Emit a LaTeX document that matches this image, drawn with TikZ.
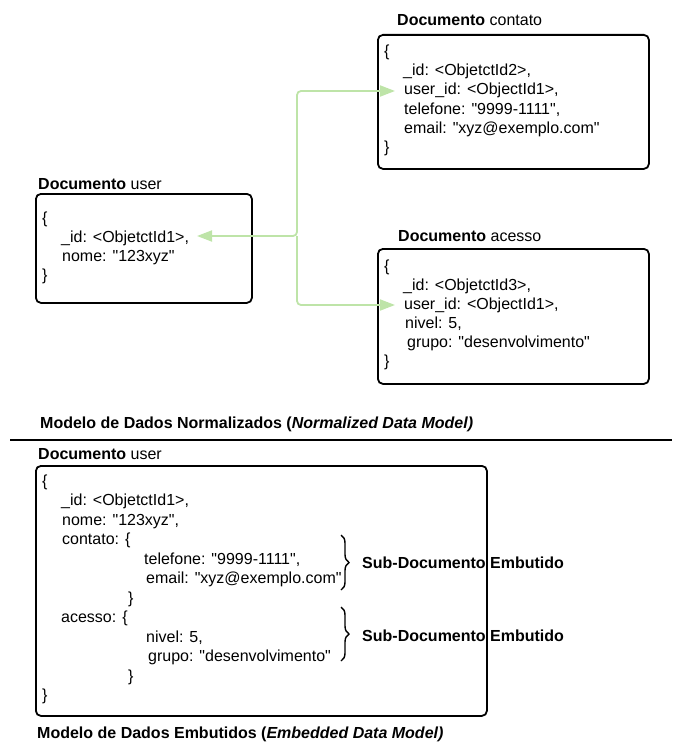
\documentclass[tikz,border=0pt]{standalone}
\usepackage{fontspec}
\setmainfont{Liberation Sans}
\usetikzlibrary{arrows.meta,decorations.pathreplacing}
\definecolor{linkgreen}{RGB}{190,228,168}
\newcommand{\dq}{\textquotedbl}
\begin{document}
\begin{tikzpicture}[x=1pt,y=-1pt,
  docbox/.style={draw=black, line width=1.8pt, rounded corners=5pt, anchor=north west, inner sep=0pt},
  code/.style={anchor=base west, inner sep=0pt, font=\fontsize{16}{19}\selectfont},
  link/.style={draw=linkgreen, line width=1.8pt, rounded corners=4pt},
  tipg/.tip={Triangle[length=15pt,width=11pt,fill=linkgreen,color=linkgreen]},
  subbrace/.style={decorate, decoration={brace, amplitude=8pt}, line width=1.4pt}]
\useasboundingbox (0,0) rectangle (672,749);

% ---------- Normalized model ----------
% contato
\node[code] (tcontato) at (397,26) {\textbf{Documento} contato};
\node[docbox, minimum width=271pt, minimum height=134pt] (contato) at (377,34) {};
\node[code] (c1) at (384,57) {\{};
\node[code] (c2) at (403,76) {\_id: <ObjetctId2>,};
\node[code] (c3) at (404,95) {user\_id: <ObjectId1>,};
\node[code] (c4) at (404,114) {telefone: \dq9999-1111\dq,};
\node[code] (c5) at (404,133) {email: \dq xyz@exemplo.com\dq};
\node[code] (c6) at (384,152) {\}};

% user
\node[code] (tuser) at (38,189) {\textbf{Documento} user};
\node[docbox, minimum width=216pt, minimum height=109pt] (user) at (35,193) {};
\node[code] (u1) at (42,223) {\{};
\node[code] (u2) at (61,242) {\_id: <ObjetctId1>,};
\node[code] (u3) at (62,261) {nome: \dq123xyz\dq};
\node[code] (u4) at (42,280) {\}};

% acesso
\node[code] (tacesso) at (398,241) {\textbf{Documento} acesso};
\node[docbox, minimum width=271pt, minimum height=135pt] (acesso) at (377,248) {};
\node[code] (a1) at (384,271) {\{};
\node[code] (a2) at (403,290) {\_id: <ObjetctId3>,};
\node[code] (a3) at (404,309) {user\_id: <ObjectId1>,};
\node[code] (a4) at (405,328) {nivel: 5,};
\node[code] (a5) at (407,347) {grupo: \dq desenvolvimento\dq};
\node[code] (a6) at (384,366) {\}};

% connectors
\coordinate (uid) at (197,236);
\coordinate (junc) at (297,236);
\coordinate (cuid) at (395,91);
\coordinate (auid) at (395,305);
\draw[link, tipg-tipg] (uid) -- (junc) |- (cuid);
\draw[link, -tipg] (junc) |- (auid);

\node[code] (tnorm) at (40,428) {\textbf{Modelo de Dados Normalizados (\textit{Normalized Data Model)}}};

% separator
\draw[line width=2pt] (10,440) -- (365,440);
\draw[line width=1.6pt] (365,440) -- (672,440);

% ---------- Embedded model ----------
\node[code] (tuser2) at (38,459) {\textbf{Documento} user};
\node[code] (e1) at (42,486) {\{};
\node[code] (e2) at (61,505.5) {\_id: <ObjetctId1>,};
\node[code] (e3) at (62,525) {nome: \dq123xyz\dq,};
\node[code] (e4) at (62,544.5) {contato: \{};
\node[code] (e5) at (144,564) {telefone: \dq9999-1111\dq,};
\node[code] (e6) at (146,583.5) {email: \dq xyz@exemplo.com\dq};
\node[code] (e7) at (128,603) {\}};
\node[code] (e8) at (61,622.5) {acesso: \{};
\node[code] (e9) at (146,642) {nivel: 5,};
\node[code] (e10) at (148,661.5) {grupo: \dq desenvolvimento\dq};
\node[code] (e11) at (128,681) {\}};
\node[code] (e12) at (42,700.5) {\}};

\coordinate (b1top) at (341,535);
\coordinate (b1bot) at (341,590);
\coordinate (b2top) at (341,607);
\coordinate (b2bot) at (341,661);
\draw[subbrace] (b1top) -- (b1bot);
\draw[subbrace] (b2top) -- (b2bot);
\node[code] (s1) at (362,568) {\textbf{Sub-Documento Embutido}};
\node[code] (s2) at (362,641) {\textbf{Sub-Documento Embutido}};

\node[docbox, minimum width=451pt, minimum height=250pt] (embed) at (35,465) {};

\node[code] (temb) at (37,738) {\textbf{Modelo de Dados Embutidos (\textit{Embedded Data Model)}}};
\end{tikzpicture}
\end{document}
